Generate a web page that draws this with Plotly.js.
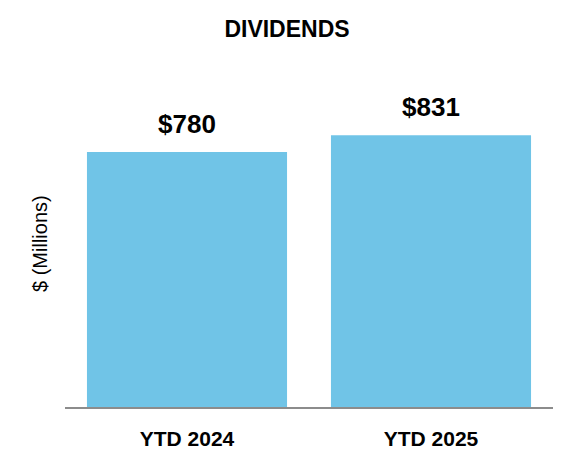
<!DOCTYPE html>
<html>
<head>
<meta charset="utf-8">
<script src="https://cdn.plot.ly/plotly-3.0.1.min.js"></script>
<style>html,body{margin:0;padding:0;background:#fff;}#chart{width:574px;height:466px;}</style>
</head>
<body>
<div id="chart"></div>
<script>
const categories = ["YTD 2024", "YTD 2025"];
const values = [780, 831];
const valueLabels = values.map(v => "$" + v);

const FONT = "Liberation Sans, Arial, sans-serif";

const trace = {
  type: "bar",
  x: categories,
  y: values,
  marker: {color: "#70C4E7"},
  hoverinfo: "skip"
};

const annotations = categories.map((c, i) => ({
  x: c, y: values[i], xref: "x", yref: "y",
  text: "<b>" + valueLabels[i] + "</b>",
  showarrow: false, yanchor: "middle", yshift: 28,
  font: {family: FONT, size: 26, color: "#000"}
}));

annotations.push({
  xref: "paper", yref: "paper",
  x: (40 - 65) / 488, y: (407 - 244) / 347,
  xanchor: "center", yanchor: "middle",
  text: "$ (Millions)", textangle: -90, showarrow: false,
  font: {family: FONT, size: 20, color: "#000"}
});

const layout = {
  width: 574, height: 466,
  margin: {l: 65, r: 21, t: 60, b: 59},
  paper_bgcolor: "#fff", plot_bgcolor: "#fff",
  bargap: 0.18,
  showlegend: false,
  title: {text: "<b>DIVIDENDS</b>", x: 0.5, xanchor: "center", y: 1 - 29 / 466, yanchor: "middle",
          font: {family: FONT, size: 23, color: "#000"}},
  xaxis: {
    type: "category",
    showline: true, linecolor: "#8c8c8c", linewidth: 2,
    ticks: "", showgrid: false, zeroline: false,
    tickfont: {family: FONT, size: 21, color: "#000"},
    tickprefix: "<b>", ticksuffix: "</b>",
    ticklabelstandoff: 12
  },
  yaxis: {
    range: [0, 1061],
    showticklabels: false, showgrid: false, zeroline: false, showline: false, ticks: ""
  },
  annotations: annotations,
  font: {family: FONT}
};

Plotly.newPlot("chart", [trace], layout, {displayModeBar: false, staticPlot: true});
</script>
</body>
</html>
